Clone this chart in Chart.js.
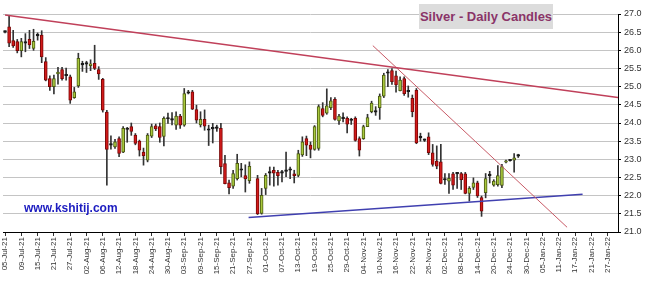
<!DOCTYPE html>
<html><head><meta charset="utf-8">
<script src="https://cdn.jsdelivr.net/npm/chart.js@4"></script>
<style>
html,body{margin:0;padding:0;background:#fff;}
#wrap{position:relative;width:650px;height:289px;overflow:hidden;}
canvas{position:absolute;left:0;top:0;}
#title{position:absolute;left:419px;top:4px;width:134px;height:25px;background:#dcdcdc;color:#8a3468;font:bold 13px Arial,"Liberation Sans",sans-serif;line-height:25px;text-align:center;white-space:nowrap;}
#site{position:absolute;left:24px;top:201px;color:#1c1cc0;font:bold 12px Arial,"Liberation Sans",sans-serif;white-space:nowrap;}
</style></head>
<body>
<div id="wrap">
<canvas id="c" width="650" height="289"></canvas>
<div id="title">Silver - Daily Candles</div>
<div id="site">www.kshitij.com</div>
</div>
<script>
// Tick labels shown on the x axis
const tickLabels = ["05-Jul-21","09-Jul-21","15-Jul-21","21-Jul-21","27-Jul-21","02-Aug-21","06-Aug-21","12-Aug-21","18-Aug-21","24-Aug-21","30-Aug-21","03-Sep-21","09-Sep-21","15-Sep-21","21-Sep-21","27-Sep-21","01-Oct-21","07-Oct-21","13-Oct-21","19-Oct-21","25-Oct-21","29-Oct-21","04-Nov-21","10-Nov-21","16-Nov-21","22-Nov-21","26-Nov-21","02-Dec-21","08-Dec-21","14-Dec-21","20-Dec-21","24-Dec-21","30-Dec-21","05-Jan-22","11-Jan-22","17-Jan-22","21-Jan-22","27-Jan-22"];
const yTicks = [21.0,21.5,22.0,22.5,23.0,23.5,24.0,24.5,25.0,25.5,26.0,26.5,27.0];

// Daily OHLC values (one per weekday from 05-Jul-21)
const openP  = [26.52,26.65,26.27,26.24,25.99,26.21,26.30,26.05,26.40,26.42,25.69,25.22,25.00,25.35,25.47,25.31,25.27,24.70,25.02,25.61,25.63,25.58,25.64,25.47,25.20,24.30,23.40,23.34,23.57,23.20,23.83,23.90,23.67,23.50,23.20,22.98,23.64,23.92,23.90,23.63,24.12,24.09,23.94,24.19,23.94,24.82,24.86,24.37,23.95,24.10,23.81,23.84,23.86,23.85,22.88,22.35,22.26,22.47,22.71,22.55,22.41,null,22.47,21.51,22.20,22.62,22.70,22.64,22.62,22.67,22.70,22.60,22.56,23.12,23.57,23.39,23.27,23.30,24.40,24.27,24.42,24.65,24.06,24.12,24.13,24.07,24.13,23.57,23.57,23.90,24.31,24.32,24.42,24.74,25.37,25.44,25.30,24.89,25.22,24.87,24.68,24.90,23.59,23.53,23.62,23.18,22.95,22.93,22.44,22.40,22.60,22.61,22.61,22.60,22.06,22.23,22.35,21.95,22.08,22.55,22.29,22.30,22.28,22.92,22.96,22.98,23.09];
const highP  = [26.54,26.95,26.55,26.30,26.33,26.46,26.55,26.58,26.48,26.54,25.80,25.30,25.32,25.53,25.53,25.51,25.32,24.98,25.92,25.70,25.70,25.74,26.14,25.55,25.23,24.35,23.65,23.55,23.62,23.90,23.88,24.00,23.71,23.53,23.31,23.71,23.97,23.97,24.00,24.17,24.27,24.29,24.31,24.24,24.95,24.90,24.90,24.49,24.31,24.36,23.94,23.99,23.94,23.99,23.11,22.43,22.70,23.14,22.89,22.85,22.93,null,22.56,22.20,22.61,22.79,22.79,22.70,22.70,23.20,22.79,22.70,23.25,23.62,23.64,23.48,23.93,24.50,24.56,24.94,24.70,24.70,24.24,24.28,24.17,24.13,24.17,23.62,23.94,24.24,24.60,24.45,24.80,25.37,25.47,25.50,25.43,25.27,25.27,25.02,24.77,24.95,23.72,23.56,23.73,23.41,23.37,23.41,22.61,22.61,22.64,22.64,22.64,22.64,22.25,22.49,22.40,21.99,22.61,22.67,22.44,22.83,22.86,22.98,22.97,23.16,23.14];
const lowP   = [26.48,26.10,26.08,25.93,25.82,25.96,26.05,26.00,26.28,25.66,25.16,24.90,24.80,25.07,25.18,25.18,24.54,24.68,24.98,25.42,25.39,25.44,25.47,25.20,24.30,22.29,23.28,23.30,23.07,23.18,23.47,23.66,23.40,23.09,22.84,22.93,23.60,23.79,23.47,23.37,23.99,23.95,23.82,23.85,23.91,24.80,24.37,24.00,23.89,23.80,23.38,23.45,23.77,22.60,22.32,22.05,22.20,22.43,22.52,22.10,22.34,null,21.48,21.49,22.03,22.29,22.26,22.29,22.38,22.52,22.47,22.35,22.52,23.08,23.10,23.04,23.25,23.25,24.17,24.24,24.37,24.08,23.96,24.03,23.73,23.96,23.50,23.09,23.55,23.90,24.28,24.21,24.10,24.70,25.00,25.06,24.85,24.88,24.76,24.71,24.17,23.43,23.50,23.49,23.13,22.81,22.74,22.32,22.31,22.06,22.17,22.20,22.17,22.05,21.85,22.17,21.95,21.43,21.94,22.35,22.26,22.26,22.22,22.90,22.95,22.65,23.05];
const closeP = [26.50,26.20,26.12,25.99,26.24,26.20,26.15,26.25,26.41,25.82,25.18,25.00,25.22,25.40,25.22,25.30,24.63,24.86,25.78,25.60,25.62,25.63,25.50,25.35,24.35,23.27,23.39,23.48,23.16,23.85,23.82,23.77,23.44,23.25,23.10,23.67,23.90,23.84,23.60,24.13,24.11,24.08,24.19,23.94,24.81,24.83,24.38,24.08,24.10,23.91,23.80,23.86,23.85,22.80,22.33,22.22,22.61,22.89,22.70,22.46,22.81,null,21.50,22.01,22.56,22.63,22.62,22.55,22.63,22.69,22.71,22.55,23.16,23.48,23.39,23.27,23.90,24.45,24.21,24.47,24.61,24.10,24.19,24.13,23.97,24.08,23.52,23.25,23.90,24.15,24.55,24.30,24.74,25.32,25.38,25.14,25.05,25.18,24.81,24.86,24.31,23.45,23.60,23.52,23.18,22.86,22.81,22.34,22.43,22.48,22.29,22.60,22.44,22.06,22.20,22.35,21.99,21.57,22.47,22.56,22.40,22.55,22.80,22.96,22.96,23.04,23.10];

// Trend lines: [category position, price] end points
const resistX = [0, 150.5],  resistY = [26.97, 24.70];
const steepX  = [90.3, 138], steepY  = [26.13, 21.13];
const supportX = [59.8, 141.8], supportY = [21.40, 22.04];

const NCAT = 151;
const months = ["Jan","Feb","Mar","Apr","May","Jun","Jul","Aug","Sep","Oct","Nov","Dec"];
const categories = [];
(function(){
  const d = new Date(2021, 6, 5);
  while (categories.length < NCAT) {
    const wd = d.getDay();
    if (wd !== 0 && wd !== 6) {
      categories.push(String(d.getDate()).padStart(2,'0') + '-' + months[d.getMonth()] + '-' + String(d.getFullYear()).slice(2));
    }
    d.setDate(d.getDate() + 1);
  }
})();
const tickSet = new Set(tickLabels);

const wickData = [], bodyData = [], bodyFill = [], bodyBorder = [];
for (let i = 0; i < NCAT; i++) {
  const o = openP[i], c = closeP[i];
  if (o == null || o === undefined) { wickData.push(null); bodyData.push(null); bodyFill.push('#000'); bodyBorder.push('#000'); continue; }
  wickData.push([lowP[i], highP[i]]);
  bodyData.push([o, c]);
  if (Math.abs(c - o) < 0.03) { bodyFill.push('#1a1a1a'); bodyBorder.push('#1a1a1a'); }
  else if (c > o) { bodyFill.push('#a8c83c'); bodyBorder.push('#4b5a12'); }
  else { bodyFill.push('#d21a1a'); bodyBorder.push('#7a0606'); }
}
const pts = (xs, ys) => xs.map((x, k) => ({x: x, y: ys[k]}));
const FONT = 'Arial, "Liberation Sans", sans-serif';

new Chart(document.getElementById('c'), {
  type: 'bar',
  data: {
    labels: categories,
    datasets: [
      { label: 'wick', data: wickData, xAxisID: 'x', yAxisID: 'y', backgroundColor: '#333', barThickness: 1, grouped: false, order: 3 },
      { label: 'body', data: bodyData, xAxisID: 'x', yAxisID: 'y', backgroundColor: bodyFill, borderColor: bodyBorder, borderWidth: 1, borderSkipped: false, barThickness: 3, minBarLength: 1.5, grouped: false, order: 2 },
      { type: 'line', label: 'resist', data: pts(resistX, resistY), xAxisID: 'x2', yAxisID: 'y', borderColor: '#c0405a', borderWidth: 1.5, pointRadius: 0, fill: false, order: 1 },
      { type: 'line', label: 'steep', data: pts(steepX, steepY), xAxisID: 'x2', yAxisID: 'y', borderColor: '#c85a66', borderWidth: 1, pointRadius: 0, fill: false, order: 1 },
      { type: 'line', label: 'support', data: pts(supportX, supportY), xAxisID: 'x2', yAxisID: 'y', borderColor: '#4040b0', borderWidth: 1.5, pointRadius: 0, fill: false, order: 1 }
    ]
  },
  options: {
    responsive: false,
    devicePixelRatio: 1,
    animation: false,
    layout: { padding: { left: 3, top: 14, right: 0, bottom: 0 } },
    plugins: { legend: { display: false }, tooltip: { enabled: false }, title: { display: false } },
    scales: {
      x: {
        type: 'category',
        offset: true,
        grid: {
          drawOnChartArea: false, drawTicks: true, tickLength: 4, offset: false,
          tickColor: ctx => tickSet.has(categories[ctx.index]) ? '#333' : 'rgba(0,0,0,0)'
        },
        border: { display: true, color: '#000', width: 1 },
        ticks: {
          autoSkip: false, maxRotation: 90, minRotation: 90, padding: 1,
          color: '#333', font: { size: 8, family: FONT },
          callback: (v, i) => tickSet.has(categories[i]) ? categories[i] : ''
        },
        afterFit: s => { s.height = 57; }
      },
      x2: { type: 'linear', display: false, offset: false, grid: { offset: false }, min: -0.5, max: NCAT - 0.5 },
      y: {
        position: 'right',
        min: 21, max: 27,
        afterBuildTicks: s => { s.ticks = yTicks.map(v => ({ value: v })); },
        grid: { color: '#c4c4c4', lineWidth: 1, drawTicks: true, tickLength: 3, tickColor: '#000' },
        border: { display: true, color: '#000', width: 1 },
        ticks: { color: '#333', padding: 3, font: { size: 9, family: FONT }, callback: v => Number(v).toFixed(1) },
        afterFit: s => { s.width = 32; }
      }
    }
  }
});
</script>
</body></html>
